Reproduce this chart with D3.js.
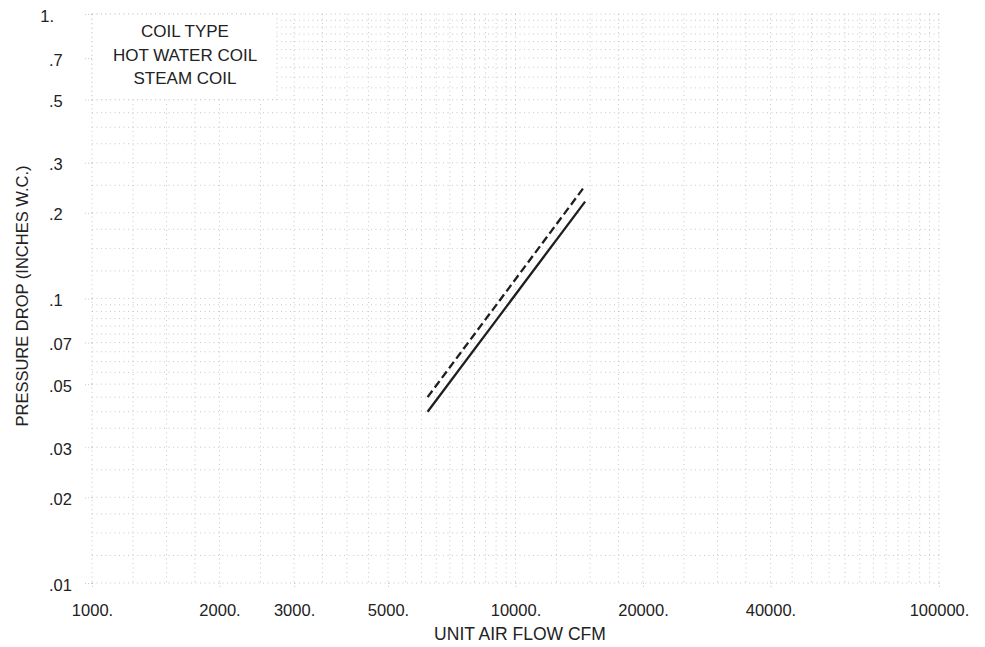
<!DOCTYPE html>
<html>
<head>
<meta charset="utf-8">
<script src="https://cdn.jsdelivr.net/npm/d3@7/dist/d3.min.js"></script>
<style>
  html, body { margin: 0; padding: 0; background: #fff; }
  svg { display: block; font-family: "Liberation Sans", Arial, Helvetica, sans-serif; }
</style>
</head>
<body>
<svg id="chart" width="985" height="647"></svg>
<script>
// Axis ticks and labels
const xTickValues = [1000, 2000, 3000, 5000, 10000, 20000, 40000, 100000];
const xTickLabels = ["1000.", "2000.", "3000.", "5000.", "10000.", "20000.", "40000.", "100000."];
const yTickValues = [1, 0.7, 0.5, 0.3, 0.2, 0.1, 0.07, 0.05, 0.03, 0.02, 0.01];
const yTickLabels = ["1.", ".7", ".5", ".3", ".2", ".1", ".07", ".05", ".03", ".02", ".01"];

// Coil pressure drop vs. unit air flow (CFM)
const airflowCfm = [6200, 14600];
const hotWaterDrop = [0.045, 0.249];
const steamDrop = [0.040, 0.219];

const legendTitle = "COIL TYPE";
const legendItems = ["HOT WATER COIL", "STEAM COIL"];

const svg = d3.select("#chart");

const x = d3.scaleLog().domain([1000, 100000]).range([92, 939]);
const y = d3.scaleLog().domain([0.01, 1]).range([583, 14]);

// Log-paper grid: fine subdivisions in the low part of each decade, coarser above
function gridValues(lo, hi) {
  const vals = [];
  for (let d = lo; d < hi; d *= 10) {
    for (let v = d; v < 2 * d - 1e-9 * d; v += d / 4) vals.push(v);
    for (let v = 2 * d; v < 10 * d - 1e-9 * d; v += d / 2) vals.push(v);
  }
  vals.push(hi);
  return vals;
}

const gridColor = "#a4a4a4";
const gridDash = "1 3.5";
const grid = svg.append("g").attr("class", "grid");
grid.selectAll("line.v")
  .data(gridValues(1000, 100000))
  .join("line")
  .attr("class", "v")
  .attr("x1", d => x(d)).attr("x2", d => x(d))
  .attr("y1", y(1)).attr("y2", y(0.01))
  .attr("stroke", gridColor)
  .attr("stroke-width", 0.9)
  .attr("stroke-dasharray", gridDash)
  .attr("opacity", 0.65);
grid.selectAll("line.h")
  .data(gridValues(0.01, 1))
  .join("line")
  .attr("class", "h")
  .attr("y1", d => y(d)).attr("y2", d => y(d))
  .attr("x1", x(1000)).attr("x2", x(100000))
  .attr("stroke", gridColor)
  .attr("stroke-width", 0.9)
  .attr("stroke-dasharray", gridDash)
  .attr("opacity", 0.65);

// X axis
const xAxis = svg.append("g")
  .attr("transform", `translate(0,${y(0.01)})`)
  .call(d3.axisBottom(x)
    .tickValues(xTickValues)
    .tickFormat((d, i) => xTickLabels[i])
    .tickSize(6));
xAxis.select(".domain").remove();
xAxis.selectAll(".tick line")
  .attr("stroke", gridColor).attr("stroke-dasharray", "1 2").attr("opacity", 0.6);
xAxis.selectAll(".tick text")
  .attr("y", 33).attr("dy", 0)
  .attr("font-size", 16.5)
  .attr("fill", "#222")
  .attr("font-family", "Liberation Sans, Arial, sans-serif");

// Y axis: labels line up on the decimal point
const yAxis = svg.append("g")
  .attr("transform", `translate(${x(1000)},0)`)
  .call(d3.axisLeft(y)
    .tickValues(yTickValues)
    .tickFormat((d, i) => yTickLabels[i])
    .tickSize(7));
yAxis.select(".domain").remove();
yAxis.selectAll(".tick line")
  .attr("stroke", gridColor).attr("stroke-dasharray", "1 2").attr("opacity", 0.6);
yAxis.selectAll(".tick text")
  .attr("dy", 7)
  .attr("font-size", 16.5)
  .attr("fill", "#222")
  .attr("font-family", "Liberation Sans, Arial, sans-serif")
  .attr("text-anchor", (d, i) => yTickLabels[i].startsWith(".") ? "start" : "end")
  .attr("x", (d, i) => yTickLabels[i].startsWith(".") ? 49 - x(1000) : 54 - x(1000));

// Axis titles
svg.append("text")
  .attr("x", 520).attr("y", 640)
  .attr("text-anchor", "middle")
  .attr("font-size", 17.5)
  .attr("fill", "#222")
  .text("UNIT AIR FLOW CFM");

svg.append("text")
  .attr("transform", "translate(28,296) rotate(-90)")
  .attr("text-anchor", "middle")
  .attr("font-size", 16.5)
  .attr("fill", "#222")
  .text("PRESSURE DROP (INCHES W.C.)");

// Legend panel
const legend = svg.append("g");
legend.append("rect")
  .attr("x", x(1000)).attr("y", y(1))
  .attr("width", 277 - x(1000)).attr("height", y(0.5) - y(1))
  .attr("fill", "#fff")
  .attr("stroke", gridColor)
  .attr("stroke-width", 0.9)
  .attr("stroke-dasharray", gridDash)
  .attr("stroke-opacity", 0.65);
const legendLines = [legendTitle].concat(legendItems);
legend.selectAll("text")
  .data(legendLines)
  .join("text")
  .attr("x", 185)
  .attr("y", (d, i) => 37 + i * 23.5)
  .attr("text-anchor", "middle")
  .attr("font-size", 17)
  .attr("fill", "#222")
  .text(d => d);

// Curves
const line = d3.line()
  .x(d => x(d[0]))
  .y(d => y(d[1]));

svg.append("path")
  .datum(airflowCfm.map((v, i) => [v, hotWaterDrop[i]]))
  .attr("d", line)
  .attr("fill", "none")
  .attr("stroke", "#1e1e1e")
  .attr("stroke-width", 2.3)
  .attr("stroke-dasharray", "8 4");

svg.append("path")
  .datum(airflowCfm.map((v, i) => [v, steamDrop[i]]))
  .attr("d", line)
  .attr("fill", "none")
  .attr("stroke", "#1e1e1e")
  .attr("stroke-width", 2.3);
</script>
</body>
</html>
